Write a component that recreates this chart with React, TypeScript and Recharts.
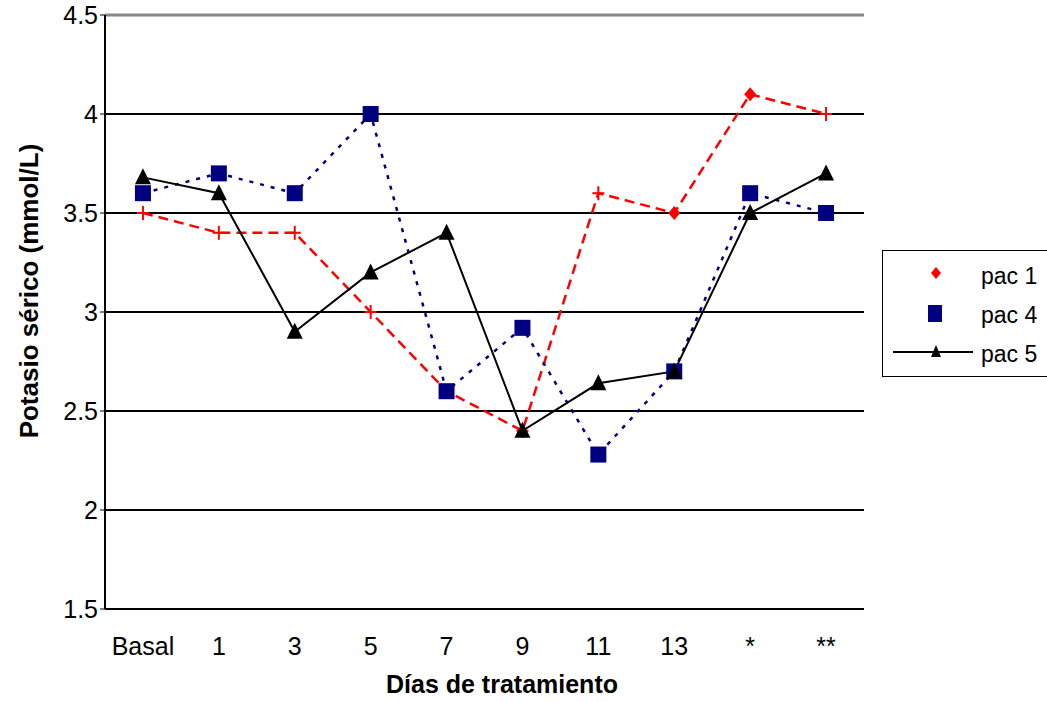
import React from 'react';
import {
    LineChart,
    Line,
    XAxis,
    YAxis,
    CartesianGrid,
    ReferenceLine,
} from 'recharts';

// días de tratamiento
const days = ['Basal', '1', '3', '5', '7', '9', '11', '13', '*', '**'];
// potasio sérico (mmol/L)
const pac1 = [3.5, 3.4, 3.4, 3.0, 2.6, 2.4, 3.6, 3.5, 4.1, 4.0];
const pac4 = [3.6, 3.7, 3.6, 4.0, 2.6, 2.92, 2.28, 2.7, 3.6, 3.5];
const pac5 = [3.68, 3.6, 2.9, 3.2, 3.4, 2.4, 2.64, 2.7, 3.5, 3.7];
const yTicks = [1.5, 2, 2.5, 3, 3.5, 4, 4.5];

const data = days.map((d, i) => ({ day: d, pac1: pac1[i], pac4: pac4[i], pac5: pac5[i] }));

const FONT = '"Liberation Sans", Arial, sans-serif';

// pac 1: cruces, y rombos en 13 y *
const RedDot = (p: any) => {
    const { cx, cy, index } = p;
    if (index === 7 || index === 8) {
        return (
            <path key={'r' + index} d={`M${cx},${cy - 7} L${cx + 6},${cy} L${cx},${cy + 7} L${cx - 6},${cy} Z`} fill="#FF0000" />
        );
    }
    return (
        <g key={'r' + index}>
            <line x1={cx} y1={cy - 7} x2={cx} y2={cy + 7} stroke="#FF0000" strokeWidth={2} />
            <line x1={cx - 6} y1={cy} x2={cx + 6} y2={cy} stroke="#FF0000" strokeWidth={2} />
        </g>
    );
};

const SquareDot = (p: any) => (
    <rect key={'s' + p.index} x={p.cx - 8} y={p.cy - 8} width={16} height={16} fill="#000080" />
);

const TriDot = (p: any) => (
    <path key={'t' + p.index} d={`M${p.cx},${p.cy - 9} L${p.cx + 8},${p.cy + 7} L${p.cx - 8},${p.cy + 7} Z`} fill="#000" />
);

const legendRow: React.CSSProperties = { position: 'absolute', left: 98, fontSize: 23, fontFamily: FONT, lineHeight: '26px' };

export default function App() {
    return (
        <div style={{ position: 'fixed', left: 0, top: 0, width: 1047, height: 702, background: '#fff', overflow: 'hidden' }}>
            <LineChart
                width={1047}
                height={702}
                data={data}
                margin={{ top: 15, right: 183, left: 0, bottom: 0 }}
            >
                <CartesianGrid vertical={false} stroke="#000" strokeWidth={2} />
                <ReferenceLine y={4.5} stroke="#888" strokeWidth={3} />
                <XAxis
                    dataKey="day"
                    scale="band"
                    height={93}
                    axisLine={{ stroke: '#000', strokeWidth: 2 }}
                    tickLine={false}
                    tickMargin={22}
                    fontSize={25}
                    tick={{ fill: '#000', fontSize: 25, fontFamily: FONT }}
                    label={{
                        content: () => (
                            <text x={502} y={693} textAnchor="middle" fontSize={25} fontWeight="bold" fontFamily={FONT} fill="#000">
                                Días de tratamiento
                            </text>
                        ),
                    }}
                />
                <YAxis
                    width={105}
                    domain={[1.5, 4.5]}
                    ticks={yTicks}
                    interval={0}
                    axisLine={{ stroke: '#000', strokeWidth: 2 }}
                    tickLine={{ stroke: '#000' }}
                    tickSize={5}
                    fontSize={25}
                    tick={{ fill: '#000', fontSize: 25, fontFamily: FONT }}
                    label={{
                        content: () => (
                            <text x={38} y={291} transform="rotate(-90 38 291)" textAnchor="middle" fontSize={26} fontWeight="bold" fontFamily={FONT} fill="#000">
                                Potasio sérico (mmol/L)
                            </text>
                        ),
                    }}
                />
                <YAxis
                    yAxisId="r"
                    orientation="right"
                    width={0}
                    domain={[1.5, 4.5]}
                    tick={false}
                    tickLine={false}
                    axisLine={{ stroke: '#888', strokeWidth: 3 }}
                />
                <Line
                    dataKey="pac1"
                    name="pac 1"
                    stroke="#FF0000"
                    strokeWidth={2.5}
                    strokeDasharray="10 6"
                    dot={RedDot}
                    activeDot={false}
                    isAnimationActive={false}
                />
                <Line
                    dataKey="pac4"
                    name="pac 4"
                    stroke="#000080"
                    strokeWidth={2.5}
                    strokeDasharray="4 7"
                    dot={SquareDot}
                    activeDot={false}
                    isAnimationActive={false}
                />
                <Line
                    dataKey="pac5"
                    name="pac 5"
                    stroke="#000"
                    strokeWidth={2}
                    dot={TriDot}
                    activeDot={false}
                    isAnimationActive={false}
                />
            </LineChart>

            {/* leyenda */}
            <div style={{ position: 'absolute', left: 882, top: 250, width: 200, height: 125, border: '1px solid #000', background: '#fff' }}>
                <svg style={{ position: 'absolute', left: 0, top: 0 }} width={100} height={125}>
                    <path d="M53,16 L58,22 L53,28 L48,22 Z" fill="#FF0000" />
                    <rect x={45} y={54} width={14} height={17} fill="#000080" />
                    <line x1={10} y1={101} x2={90} y2={101} stroke="#000" strokeWidth={2} />
                    <path d="M53,94 L58,106 L48,106 Z" fill="#000" />
                </svg>
                <div style={{ ...legendRow, top: 12 }}>pac 1</div>
                <div style={{ ...legendRow, top: 51 }}>pac 4</div>
                <div style={{ ...legendRow, top: 90 }}>pac 5</div>
            </div>
        </div>
    );
}
